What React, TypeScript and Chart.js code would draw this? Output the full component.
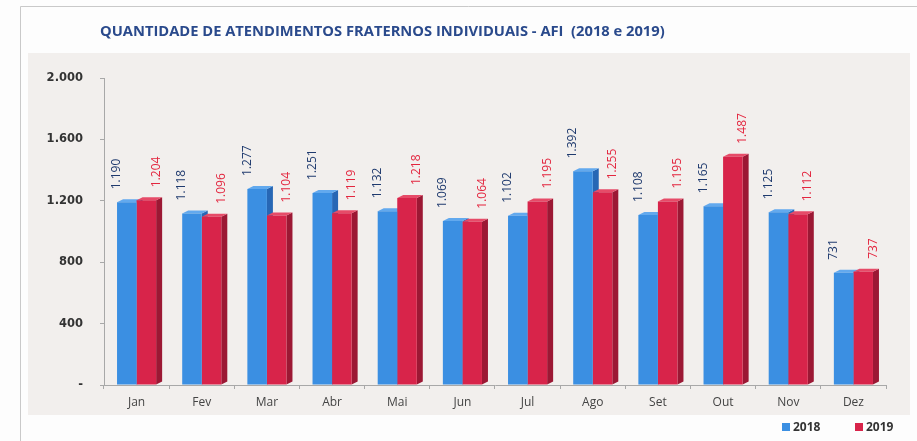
import React, { useEffect, useRef } from "react";
import { Chart, registerables } from "chart.js";

Chart.register(...registerables);

const TITLE = "QUANTIDADE DE ATENDIMENTOS FRATERNOS INDIVIDUAIS - AFI  (2018 e 2019)";
const categories = ["Jan", "Fev", "Mar", "Abr", "Mai", "Jun", "Jul", "Ago", "Set", "Out", "Nov", "Dez"];
const seriesLabels = ["2018", "2019"];
const values2018 = [1190, 1118, 1277, 1251, 1132, 1069, 1102, 1392, 1108, 1165, 1125, 731];
const values2019 = [1204, 1096, 1104, 1119, 1218, 1064, 1195, 1255, 1195, 1487, 1112, 737];
const yTicks = [0, 400, 800, 1200, 1600, 2000];

const FRONT = ["#3b8fe2", "#d8244a"];
const SIDE = ["#2767b5", "#9c1834"];
const TOP = ["#62a9ee", "#e64b68"];
const LABEL_COLORS = ["#1f3a6e", "#e3263f"];
const LABEL_OFFSET = [-10, 10];
const DX = 6;
const DY = 3;

const fmt = (v: number) => (v === 0 ? "-" : String(v).replace(/\B(?=(\d{3})+(?!\d))/g, "."));

const backgroundPlugin = {
  id: "bg",
  beforeDraw(chart: any) {
    const ctx = chart.ctx;
    ctx.save();
    ctx.fillStyle = "#fdfdfd";
    ctx.fillRect(0, 0, chart.width, chart.height);
    ctx.strokeStyle = "#c9c9c9";
    ctx.lineWidth = 1;
    ctx.beginPath();
    ctx.moveTo(20.5, chart.height);
    ctx.lineTo(20.5, 6.5);
    ctx.lineTo(chart.width, 6.5);
    ctx.stroke();
    ctx.fillStyle = "#f2efed";
    ctx.fillRect(28, 53, 882, 362);
    ctx.restore();
  },
};

const titlePlugin = {
  id: "customTitle",
  afterDraw(chart: any) {
    const ctx = chart.ctx;
    ctx.save();
    const family = "'Liberation Sans Narrow', 'Open Sans', sans-serif";
    ctx.font = `bold 16px ${family}`;
    const w = ctx.measureText(TITLE).width;
    const size = (16 * 565) / w;
    ctx.font = `bold ${size.toFixed(2)}px ${family}`;
    ctx.fillStyle = "#2a4a8c";
    ctx.textAlign = "left";
    ctx.textBaseline = "middle";
    ctx.fillText(TITLE, 100, 32);
    ctx.restore();
  },
};

const depthPlugin = {
  id: "depth",
  beforeDatasetsDraw(chart: any) {
    const ctx = chart.ctx;
    ctx.save();
    chart.data.datasets.forEach((_: any, i: number) => {
      const meta = chart.getDatasetMeta(i);
      meta.data.forEach((bar: any) => {
        const { x, y, base, width } = bar.getProps(["x", "y", "base", "width"], true);
        const l = x - width / 2;
        const r = x + width / 2;
        ctx.fillStyle = SIDE[i];
        ctx.beginPath();
        ctx.moveTo(r, y);
        ctx.lineTo(r + DX, y - DY);
        ctx.lineTo(r + DX, base - DY);
        ctx.lineTo(r, base);
        ctx.closePath();
        ctx.fill();
        ctx.fillStyle = TOP[i];
        ctx.beginPath();
        ctx.moveTo(l, y);
        ctx.lineTo(l + DX, y - DY);
        ctx.lineTo(r + DX, y - DY);
        ctx.lineTo(r, y);
        ctx.closePath();
        ctx.fill();
      });
    });
    ctx.restore();
  },
};

const valueLabelPlugin = {
  id: "valueLabels",
  afterDatasetsDraw(chart: any) {
    const ctx = chart.ctx;
    ctx.save();
    ctx.font = "12px 'Open Sans', sans-serif";
    ctx.textAlign = "left";
    ctx.textBaseline = "middle";
    chart.data.datasets.forEach((ds: any, i: number) => {
      const meta = chart.getDatasetMeta(i);
      meta.data.forEach((bar: any, j: number) => {
        const { x, y } = bar.getProps(["x", "y"], true);
        ctx.save();
        ctx.translate(x + LABEL_OFFSET[i], y - 13);
        ctx.rotate(-Math.PI / 2);
        ctx.fillStyle = LABEL_COLORS[i];
        ctx.fillText(fmt(ds.data[j]), 0, 0);
        ctx.restore();
      });
    });
    ctx.restore();
  },
};

const legendPlugin = {
  id: "customLegend",
  afterDraw(chart: any) {
    const ctx = chart.ctx;
    ctx.save();
    ctx.font = "bold 12px 'Open Sans', sans-serif";
    ctx.textBaseline = "middle";
    ctx.textAlign = "left";
    const starts = [782, 855];
    chart.data.datasets.forEach((ds: any, i: number) => {
      const x = starts[i];
      ctx.fillStyle = FRONT[i];
      ctx.fillRect(x, 423, 8, 8);
      ctx.fillStyle = "#333333";
      ctx.fillText(ds.label, x + 11, 427.5);
    });
    ctx.restore();
  },
};

export default function App() {
  const ref = useRef<HTMLCanvasElement | null>(null);
  useEffect(() => {
    if (!ref.current) return;
    const chart = new Chart(ref.current, {
      type: "bar",
      data: {
        labels: categories,
        datasets: [
          { label: seriesLabels[0], data: values2018, backgroundColor: FRONT[0], categoryPercentage: 0.6, barPercentage: 1 },
          { label: seriesLabels[1], data: values2019, backgroundColor: FRONT[1], categoryPercentage: 0.6, barPercentage: 1 },
        ],
      },
      options: {
        responsive: false,
        animation: false,
        layout: { padding: { left: 0, right: 31, top: 78, bottom: 0 } },
        plugins: {
          legend: { display: false },
          title: { display: false },
          tooltip: { enabled: false },
        },
        scales: {
          x: {
            border: { color: "#a8a8a8" },
            grid: { drawOnChartArea: false, tickLength: 4, color: "#a8a8a8" },
            ticks: { padding: 6, color: "#444", font: { family: "'Open Sans', sans-serif", size: 12 } },
            afterFit: (s: any) => {
              s.height = 56;
            },
          },
          y: {
            min: 0,
            max: 2000,
            afterBuildTicks: (s: any) => {
              s.ticks = yTicks.map((v) => ({ value: v }));
            },
            border: { color: "#a8a8a8" },
            grid: { drawOnChartArea: false, tickLength: 4, color: "#a8a8a8" },
            ticks: {
              padding: 17,
              color: "#333",
              font: { family: "'DejaVu Sans', sans-serif", size: 11.5, weight: "bold" },
              callback: (v: any) => fmt(Number(v)),
            },
            afterFit: (s: any) => {
              s.width = 104;
            },
          },
        },
      },
      plugins: [backgroundPlugin, depthPlugin, valueLabelPlugin, titlePlugin, legendPlugin],
    });
    return () => chart.destroy();
  }, []);
  return (
    <div style={{ position: "fixed", left: 0, top: 0, width: 917, height: 441 }}>
      <canvas ref={ref} width={917} height={441} style={{ width: 917, height: 441, display: "block" }} />
    </div>
  );
}
